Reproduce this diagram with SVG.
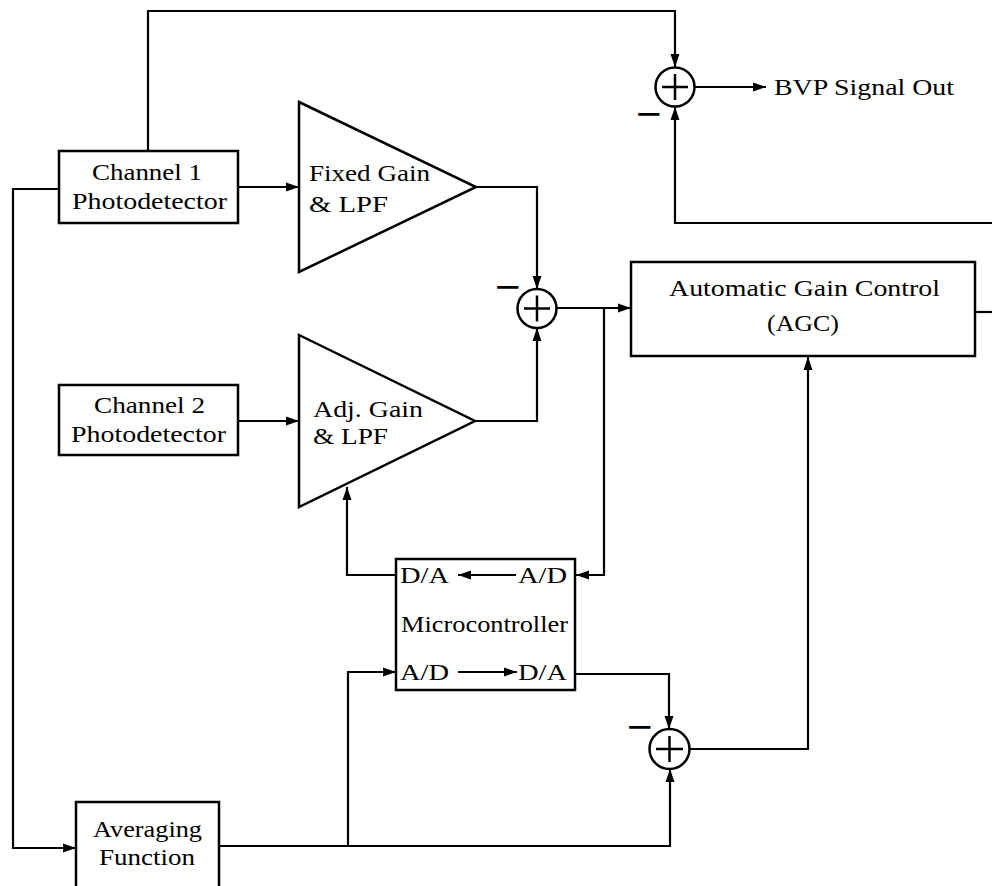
<svg xmlns="http://www.w3.org/2000/svg" width="992" height="886" viewBox="0 0 992 886">
<defs>
<marker id="ah" markerUnits="userSpaceOnUse" markerWidth="13" markerHeight="10" refX="13" refY="5" orient="auto">
<path d="M0,0.5 L13,5 L0,9.5 z" fill="#000"/>
</marker>
<style>
.box{fill:#fff;stroke:#000;stroke-width:2.5}
.tri{fill:#fff;stroke:#000;stroke-width:2.5;stroke-linejoin:miter}
.sum{fill:#fff;stroke:#000;stroke-width:2.5}
.plus{stroke:#000;stroke-width:2.5}
.c{fill:none;stroke:#000;stroke-width:2.2}
.a{marker-end:url(#ah)}
.t{font-family:"Liberation Serif","Times New Roman",serif;font-size:24px;fill:#000}
.m{font-family:"DejaVu Sans",sans-serif;font-size:34px;fill:#000}
</style>
</defs>
<rect width="992" height="886" fill="#fff"/>

<g id="connectors">
<path class="c a" d="M148,151 V11 H675 V67"/>
<path class="c a" d="M238,187 H299"/>
<path class="c a" d="M59,189 H13 V848 H76"/>
<path class="c a" d="M476,187 H537 V289"/>
<path class="c a" d="M238,421 H299"/>
<path class="c a" d="M475,421 H537 V328"/>
<path class="c a" d="M556,308 H631"/>
<path class="c a" d="M604,308 V575 H576"/>
<path class="c a" d="M396,575 H347 V487"/>
<path class="c a" d="M219,846 H670 V769"/>
<path class="c a" d="M348,846 V672 H396"/>
<path class="c a" d="M576,674 H669 V729"/>
<path class="c a" d="M689,749 H808 V357"/>
<path class="c" d="M975,312 H992"/>
<path class="c a" d="M992,223 H675 V107"/>
<path class="c a" d="M695,87 H766"/>
</g>

<g id="channel1" class="t">
<rect class="box" x="59" y="151" width="179" height="72"/>
<text x="92" y="180" textLength="110" lengthAdjust="spacingAndGlyphs">Channel 1</text>
<text x="72" y="209" textLength="155" lengthAdjust="spacingAndGlyphs">Photodetector</text>
</g>

<g id="channel2" class="t">
<rect class="box" x="59" y="385" width="179" height="70"/>
<text x="94" y="413" textLength="111" lengthAdjust="spacingAndGlyphs">Channel 2</text>
<text x="71" y="442" textLength="155" lengthAdjust="spacingAndGlyphs">Photodetector</text>
</g>

<g id="fixedGain" class="t">
<polygon class="tri" points="299,102 476,187 299,272"/>
<text x="309" y="181" textLength="121" lengthAdjust="spacingAndGlyphs">Fixed Gain</text>
<text x="309" y="212" textLength="79" lengthAdjust="spacingAndGlyphs">&amp; LPF</text>
</g>

<g id="adjGain" class="t">
<polygon class="tri" points="299,335 475,421 299,507"/>
<text x="313" y="417" textLength="110" lengthAdjust="spacingAndGlyphs">Adj. Gain</text>
<text x="313" y="444" textLength="75" lengthAdjust="spacingAndGlyphs">&amp; LPF</text>
</g>

<g id="sumBVP">
<circle class="sum" cx="675" cy="87" r="19.5"/>
<line class="plus" x1="662" y1="87" x2="688" y2="87"/>
<line class="plus" x1="675" y1="74" x2="675" y2="100"/>
<text class="m" x="634.4" y="125.4">−</text>
</g>

<g id="bvpOut" class="t">
<text x="774" y="95" textLength="180" lengthAdjust="spacingAndGlyphs">BVP Signal Out</text>
</g>

<g id="sumDiff">
<circle class="sum" cx="537" cy="308.5" r="19.5"/>
<line class="plus" x1="524" y1="308.5" x2="550" y2="308.5"/>
<line class="plus" x1="537" y1="295.5" x2="537" y2="321.5"/>
<text class="m" x="493.4" y="298.4">−</text>
</g>

<g id="agc" class="t">
<rect class="box" x="631" y="262" width="344" height="94"/>
<text x="669" y="296" textLength="271" lengthAdjust="spacingAndGlyphs">Automatic Gain Control</text>
<text x="767" y="331" textLength="72" lengthAdjust="spacingAndGlyphs">(AGC)</text>
</g>

<g id="microcontroller" class="t">
<rect class="box" x="396" y="559" width="179" height="131"/>
<text x="400" y="583" textLength="49" lengthAdjust="spacingAndGlyphs">D/A</text>
<text x="518" y="583" textLength="49" lengthAdjust="spacingAndGlyphs">A/D</text>
<path class="c a" d="M516,575 H458"/>
<text x="401" y="632" textLength="167" lengthAdjust="spacingAndGlyphs">Microcontroller</text>
<text x="400" y="680" textLength="49" lengthAdjust="spacingAndGlyphs">A/D</text>
<text x="518" y="680" textLength="49" lengthAdjust="spacingAndGlyphs">D/A</text>
<path class="c a" d="M458,672 H517"/>
</g>

<g id="sumAvg">
<circle class="sum" cx="669.5" cy="749" r="20"/>
<line class="plus" x1="656" y1="749" x2="683" y2="749"/>
<line class="plus" x1="669.5" y1="736" x2="669.5" y2="762"/>
<text class="m" x="625.4" y="738.4">−</text>
</g>

<g id="averaging" class="t">
<rect class="box" x="76" y="802" width="143" height="100"/>
<text x="93" y="837" textLength="109" lengthAdjust="spacingAndGlyphs">Averaging</text>
<text x="99" y="865" textLength="96" lengthAdjust="spacingAndGlyphs">Function</text>
</g>
</svg>
